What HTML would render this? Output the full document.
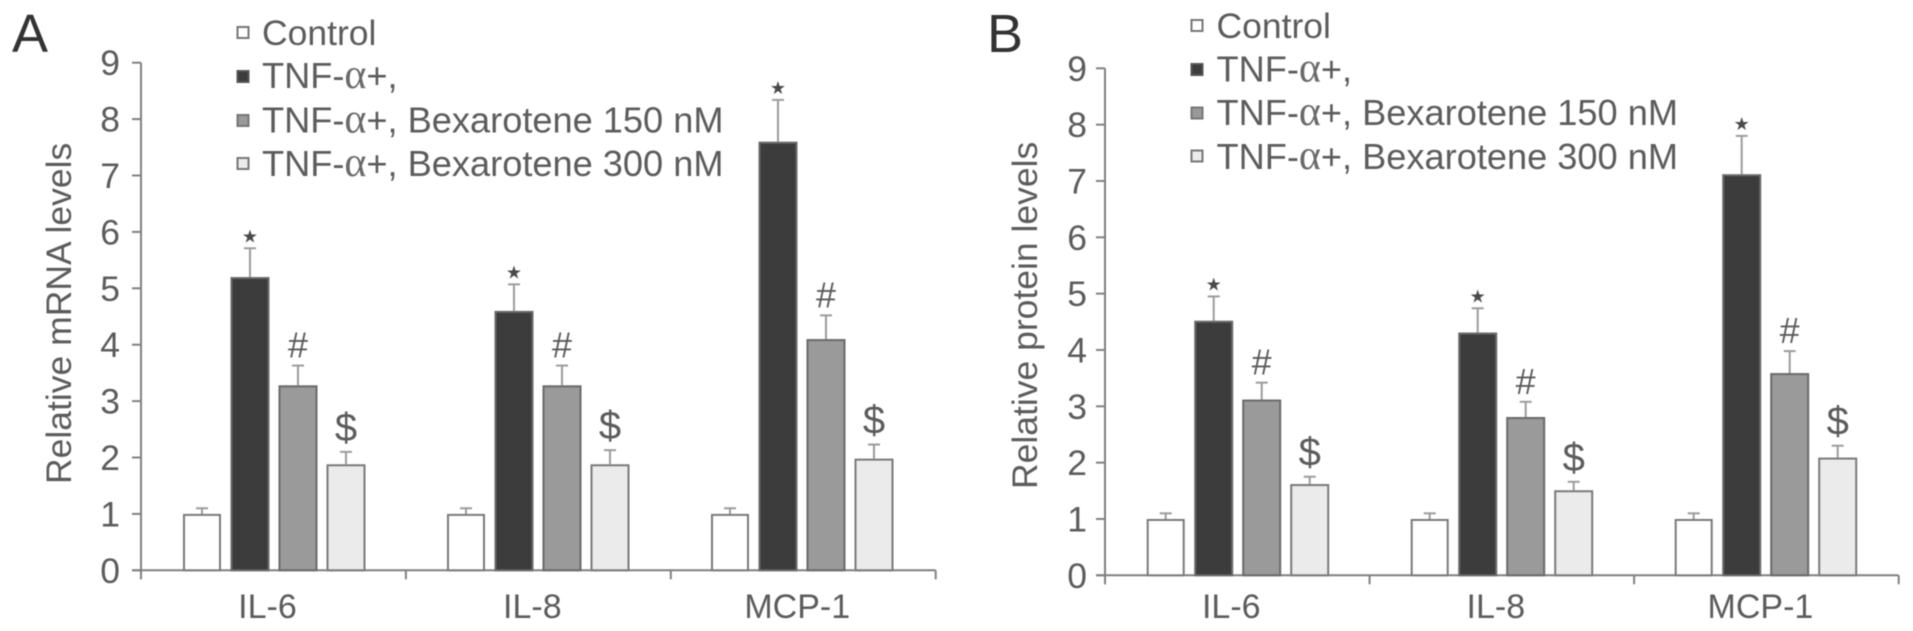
<!DOCTYPE html>
<html lang="en">
<head>
<meta charset="utf-8">
<title>Relative mRNA and protein levels</title>
<style>
  html, body { margin: 0; padding: 0; background: #fff; }
  body { width: 1913px; height: 631px; overflow: hidden; }
  svg { display: block; filter: blur(0.6px); }
  text { font-family: "Liberation Sans", sans-serif; fill: #5c5c5c; }
  .alpha { font-family: "Liberation Serif", serif; fill: #6a6a6a; font-size: 42px; }
  .letter { font-size: 54px; fill: #333; }
  .leg { font-size: 36.2px; }
  .ctl { font-size: 35.5px; }
  .title { font-size: 35.5px; }
</style>
</head>
<body>
<svg id="figure" xmlns="http://www.w3.org/2000/svg" width="1913" height="631" viewBox="0 0 1913 631">
  <rect x="0" y="0" width="1913" height="631" fill="#ffffff"/>

  <g id="panel-a">
    <text class="letter" x="12" y="52">A</text>
    <text class="title" transform="translate(71,484) rotate(-90)" x="0" y="0">Relative mRNA levels</text>
    <g>
      <g>
        <rect x="237.5" y="27" width="11" height="11" fill="#ffffff" stroke="#777" stroke-width="2"/>
        <text class="leg ctl" x="262" y="45">Control</text>
      </g>
      <g>
        <rect x="237.5" y="71" width="11" height="11" fill="#3c3c3c" stroke="#555" stroke-width="2"/>
        <text class="leg" x="262" y="88">TNF-<tspan class="alpha">α</tspan>+,</text>
      </g>
      <g>
        <rect x="237.5" y="115" width="11" height="11" fill="#9a9a9a" stroke="#777" stroke-width="2"/>
        <text class="leg" x="262" y="132.5">TNF-<tspan class="alpha">α</tspan>+, Bexarotene 150 nM</text>
      </g>
      <g>
        <rect x="237.5" y="158" width="11" height="11" fill="#ebebeb" stroke="#777" stroke-width="2"/>
        <text class="leg" x="262" y="176">TNF-<tspan class="alpha">α</tspan>+, Bexarotene 300 nM</text>
      </g>
    </g>
  </g>

  <g id="panel-b">
    <text class="letter" x="987" y="52">B</text>
    <text class="title" transform="translate(1037,489) rotate(-90)" x="0" y="0">Relative protein levels</text>
    <g>
      <g>
        <rect x="1191.5" y="20" width="11" height="11" fill="#ffffff" stroke="#777" stroke-width="2"/>
        <text class="leg ctl" x="1216.5" y="38">Control</text>
      </g>
      <g>
        <rect x="1191.5" y="64" width="11" height="11" fill="#3c3c3c" stroke="#555" stroke-width="2"/>
        <text class="leg" x="1216.5" y="81.5">TNF-<tspan class="alpha">α</tspan>+,</text>
      </g>
      <g>
        <rect x="1191.5" y="107.5" width="11" height="11" fill="#9a9a9a" stroke="#777" stroke-width="2"/>
        <text class="leg" x="1216.5" y="125">TNF-<tspan class="alpha">α</tspan>+, Bexarotene 150 nM</text>
      </g>
      <g>
        <rect x="1191.5" y="150.5" width="11" height="11" fill="#ebebeb" stroke="#777" stroke-width="2"/>
        <text class="leg" x="1216.5" y="169">TNF-<tspan class="alpha">α</tspan>+, Bexarotene 300 nM</text>
      </g>
    </g>
  </g>
</svg>

<script>
// ---- Chart data ----
const categories = ['IL-6', 'IL-8', 'MCP-1'];
const yTickLabels = ['0', '1', '2', '3', '4', '5', '6', '7', '8', '9'];
const seriesKeys = ['control', 'tnf', 'bexarotene-150', 'bexarotene-300'];
const significance = ['', '★', '#', '$'];

// Panel A: relative mRNA levels (bar value, then top of error bar)
const mrnaControl = [1, 1, 1];
const mrnaTnf = [5.2, 4.6, 7.6];
const mrnaBex150 = [3.28, 3.28, 4.1];
const mrnaBex300 = [1.88, 1.88, 1.98];
const mrnaControlErr = [1.1, 1.1, 1.1];
const mrnaTnfErr = [5.71, 5.07, 8.34];
const mrnaBex150Err = [3.63, 3.63, 4.52];
const mrnaBex300Err = [2.1, 2.13, 2.23];

// Panel B: relative protein levels (bar value, then top of error bar)
const proteinControl = [1, 1, 1];
const proteinTnf = [4.52, 4.31, 7.12];
const proteinBex150 = [3.12, 2.81, 3.59];
const proteinBex300 = [1.62, 1.51, 2.09];
const proteinControlErr = [1.1, 1.1, 1.1];
const proteinTnfErr = [4.95, 4.74, 7.8];
const proteinBex150Err = [3.42, 3.08, 3.98];
const proteinBex300Err = [1.75, 1.66, 2.3];

// ---- Drawing ----
const SVG_NS = 'http://www.w3.org/2000/svg';
const fills = ['#ffffff', '#3c3c3c', '#9a9a9a', '#ebebeb'];
const strokes = ['#7a7a7a', '#6a6a6a', '#6a6a6a', '#7a7a7a'];
const barOffsets = [0, 47.5, 95.5, 143.5];

function make(tag, attrs, parent) {
  const node = document.createElementNS(SVG_NS, tag);
  for (const key in attrs) node.setAttribute(key, attrs[key]);
  parent.appendChild(node);
  return node;
}

function drawPanel(root, layout, values, errors) {
  const yScale = function (v) {
    return layout.y0 - v * (layout.y0 - layout.y9) / 9;
  };
  const xTick = function (g) {
    return layout.axisX + g * (layout.axisEnd - layout.axisX) / categories.length;
  };
  const barX = function (g, s) {
    return layout.barStart + g * 264 + barOffsets[s];
  };

  const axes = make('g', {}, root);
  
  

  const yAxis = make('line', { x1: layout.axisX, x2: layout.axisX, y1: layout.y9, y2: layout.y0 + 9, stroke: '#808080', 'stroke-width': 2 }, axes);
  
  

  yTickLabels.forEach(function (label) {
    const tick = make('line', { x1: layout.axisX - 9, x2: layout.axisX, y1: yScale(+label), y2: yScale(+label), stroke: '#808080', 'stroke-width': 2 }, axes);
    
    

    const text = make('text', { x: layout.axisX - layout.labelGap, y: yScale(+label) + 12.5, 'text-anchor': 'end', 'font-size': 35.5 }, axes);
    text.textContent = label;
    
    
  });

  for (let g = 0; g <= categories.length; g++) {
    const tick = make('line', { x1: xTick(g), x2: xTick(g), y1: layout.y0, y2: layout.y0 + 9, stroke: '#808080', 'stroke-width': 2 }, axes);
    
    
  }

  categories.forEach(function (cat, g) {
    const text = make('text', { x: (xTick(g) + xTick(g + 1)) / 2 - 6, y: 618, 'text-anchor': 'middle', 'font-size': 34 }, axes);
    text.textContent = cat;
    
    
  });

  values.forEach(function (series, s) {
    series.forEach(function (v, g) {
      const barW = s === 0 ? 38 : 39;
      const x = barX(g, s);
      const cx = x + barW / 2;
      const errY = yScale(errors[s][g]);

      const errLine = make('line', { x1: cx, x2: cx, y1: errY, y2: yScale(v), stroke: '#9c9c9c', 'stroke-width': 2 }, root);
      
      

      const errCap = make('line', { x1: cx - 6, x2: cx + 6, y1: errY, y2: errY, stroke: '#9c9c9c', 'stroke-width': 2 }, root);
      
      

      const bar = make('rect', { x: x + 1, y: yScale(v) + 1, width: barW - 2, height: yScale(0) - yScale(v) - 1, fill: fills[s], stroke: strokes[s], 'stroke-width': 2 }, root);
      
      

      const mark = significance[s];
      if (mark) {
        const isStar = mark === '★';
        const isHash = mark === '#';
        const attrs = {
          x: cx,
          y: errY - (isStar ? 6 : (isHash ? 8 : 11)),
          'text-anchor': 'middle',
          'font-size': isStar ? 18 : (isHash ? 36 : 40)
        };
        if (isStar) attrs.style = 'font-family:"DejaVu Sans",sans-serif;fill:#4a4a4a';
        const sig = make('text', attrs, root);
        sig.textContent = mark;
        
        
      }
    });
  });

  const xAxis = make('line', { x1: layout.axisX - 9, x2: layout.axisEnd, y1: layout.y0, y2: layout.y0, stroke: '#808080', 'stroke-width': 2 }, axes);
  
  
}

drawPanel(
  document.getElementById('panel-a'),
  { axisX: 141, axisEnd: 935.7, y0: 570.3, y9: 62.7, barStart: 183, labelGap: 21 },
  [mrnaControl, mrnaTnf, mrnaBex150, mrnaBex300],
  [mrnaControlErr, mrnaTnfErr, mrnaBex150Err, mrnaBex300Err]
);
drawPanel(
  document.getElementById('panel-b'),
  { axisX: 1105, axisEnd: 1898.7, y0: 575.3, y9: 68.3, barStart: 1146.7, labelGap: 18 },
  [proteinControl, proteinTnf, proteinBex150, proteinBex300],
  [proteinControlErr, proteinTnfErr, proteinBex150Err, proteinBex300Err]
);
</script>
</body>
</html>
